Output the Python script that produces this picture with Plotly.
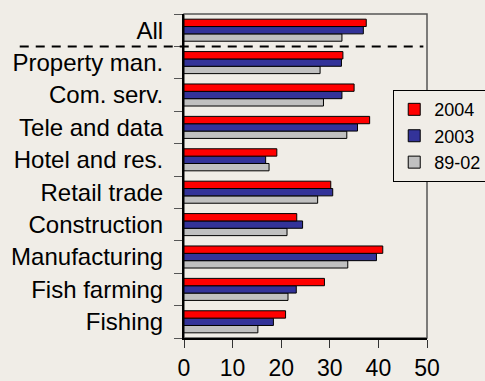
import plotly.graph_objects as go

categories = ["All", "Property man.", "Com. serv.", "Tele and data", "Hotel and res.",
              "Retail trade", "Construction", "Manufacturing", "Fish farming", "Fishing"]
v2004 = [37.5, 32.7, 35.0, 38.2, 19.1, 30.2, 23.2, 40.9, 28.9, 20.9]
v2003 = [36.9, 32.4, 32.5, 35.7, 16.8, 30.6, 24.4, 39.6, 23.1, 18.4]
v8902 = [32.5, 28.0, 28.7, 33.5, 17.5, 27.5, 21.2, 33.7, 21.4, 15.2]
x_ticks = [0, 10, 20, 30, 40, 50]

BG = "#F0EDE7"
FONT = "Arial, Liberation Sans, sans-serif"

fig = go.Figure()
for name, vals, col in [("89-02", v8902, "#C0C0C0"),
                        ("2003", v2003, "#333399"),
                        ("2004", v2004, "#FF0000")]:
    fig.add_trace(go.Bar(y=categories, x=vals, name=name, orientation="h",
                         marker=dict(color=col, line=dict(color="black", width=1))))

fig.update_layout(
    width=485, height=381,
    paper_bgcolor=BG, plot_bgcolor=BG,
    margin=dict(l=184, r=58, t=14, b=43, autoexpand=False),
    barmode="group", bargap=0.32, bargroupgap=0,
    font=dict(family=FONT, color="black"),
    showlegend=True,
    legend=dict(traceorder="reversed", x=0.861, y=0.765, xanchor="left", yanchor="top",
                bgcolor=BG, bordercolor="black", borderwidth=1,
                font=dict(size=18, family=FONT)),
    xaxis=dict(range=[0, 50], tickvals=x_ticks, ticks="outside", ticklen=8,
               tickcolor="#333", showgrid=False, zeroline=False,
               showline=True, linecolor="black", linewidth=2,
               tickfont=dict(size=23), ticklabelstandoff=0,
               fixedrange=True, automargin=False),
    yaxis=dict(categoryorder="array", categoryarray=categories[::-1],
               ticks="outside", tickson="boundaries", ticklen=8, tickcolor="#555",
               showgrid=False, showline=True, linecolor="black", linewidth=2,
               tickfont=dict(size=24), ticklabelstandoff=14, automargin=False,
               fixedrange=True),
    shapes=[
        dict(type="rect", xref="paper", yref="paper", x0=0, x1=1, y0=0, y1=1,
             line=dict(color="#555", width=1.5), layer="below"),
        dict(type="line", xref="paper", yref="y", x0=-0.676, x1=0.985,
             y0=len(categories) - 1.5, y1=len(categories) - 1.5,
             line=dict(color="black", width=2, dash="9px,7px")),
    ],
)

fig.write_html("out.html", config={"displayModeBar": False},
               post_script="document.body.style.margin='0';document.body.style.overflow='hidden';")
